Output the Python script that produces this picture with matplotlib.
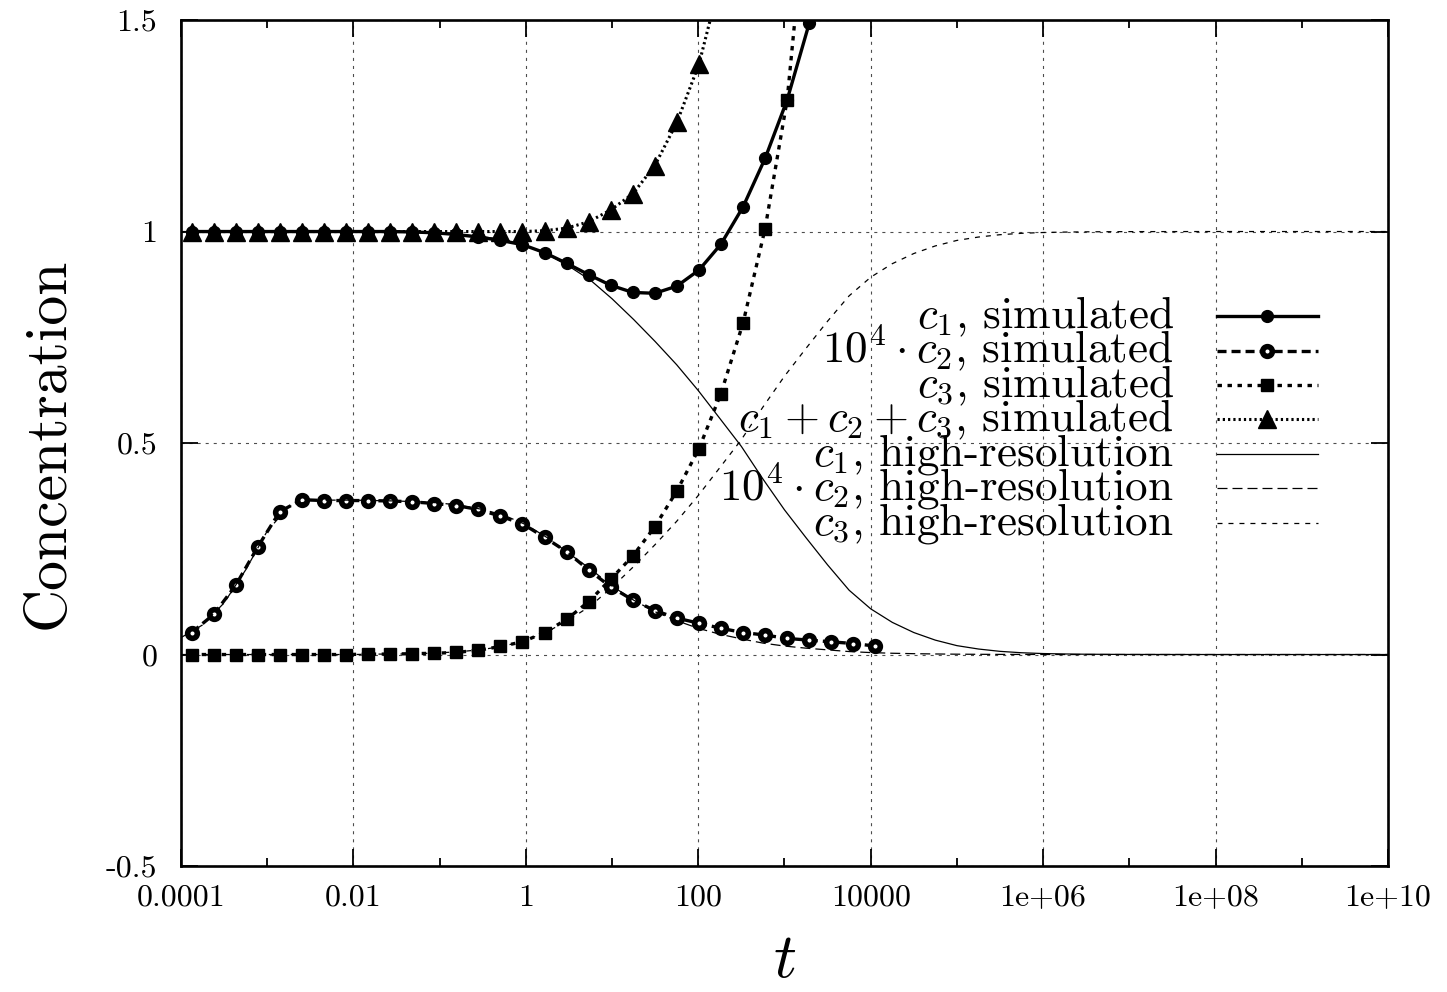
import numpy as np
import matplotlib
matplotlib.use('Agg')
import matplotlib.pyplot as plt
from matplotlib.ticker import FixedLocator, NullLocator, NullFormatter

# computer-modern look, as in the LaTeX original
plt.rcParams['font.family'] = 'cmr10'
plt.rcParams['mathtext.fontset'] = 'cm'
plt.rcParams['axes.formatter.use_mathtext'] = True
plt.rcParams['lines.scale_dashes'] = False

# simulated time points
t_sim = [1.33e-4, 2.40e-4, 4.32e-4, 7.79e-4, 1.40e-3, 2.53e-3, 4.56e-3, 8.22e-3,
         1.48e-2, 2.67e-2, 4.81e-2, 8.67e-2, 0.156, 0.281, 0.507, 0.914,
         1.65, 2.97, 5.35, 9.64, 17.4, 31.3, 56.5, 102,
         183, 330, 596, 1073, 1934, 3485, 6281, 11320]

c1_sim = [1.0, 1.0, 1.0, 1.0, 1.0, 1.0, 1.0, 1.0, 1.0, 1.0,
          0.999, 0.997, 0.993, 0.987, 0.979, 0.969, 0.950, 0.925, 0.898, 0.873,
          0.856, 0.854, 0.871, 0.909, 0.970, 1.058, 1.173, 1.311, 1.492]
c2_sim = [0.052, 0.095, 0.164, 0.255, 0.338, 0.366, 0.364, 0.364, 0.364, 0.363,
          0.361, 0.357, 0.352, 0.343, 0.327, 0.309, 0.277, 0.243, 0.200, 0.160,
          0.129, 0.104, 0.086, 0.074, 0.062, 0.052, 0.046, 0.038, 0.034, 0.030,
          0.026, 0.020]
c3_sim = [0.0, 0.0, 0.0, 0.0, 0.0, 0.0, 0.0, 0.0,
          0.001, 0.001, 0.002, 0.003, 0.005, 0.010, 0.019, 0.030, 0.052, 0.083,
          0.125, 0.178, 0.233, 0.302, 0.387, 0.487, 0.617, 0.783, 1.007, 1.311, 1.85]
sum_sim = [1.0, 1.0, 1.0, 1.0, 1.0, 1.0, 1.0, 1.0, 1.0, 1.0, 1.0, 1.0, 1.0, 1.0, 1.0,
           1.0, 1.002, 1.008, 1.023, 1.051, 1.089, 1.156, 1.258, 1.396, 1.60]

# high-resolution reference
t_hr = [1e-4, 1.78e-4, 3.16e-4, 5.62e-4, 1e-3, 1.78e-3, 3.16e-3, 5.62e-3,
        1e-2, 1.78e-2, 3.16e-2, 5.62e-2, 0.1, 0.178, 0.316, 0.562,
        1, 1.78, 3.16, 5.62, 10, 17.8, 31.6, 56.2,
        100, 178, 316, 562, 1e3, 1.78e3, 3.16e3, 5.62e3,
        1e4, 1.78e4, 3.16e4, 5.62e4, 1e5, 1.78e5, 3.16e5, 5.62e5,
        1e6, 1.78e6, 3.16e6, 5.62e6, 1e7, 1e8, 1e9, 1e10]
c1_hr = [1.0, 1.0, 1.0, 1.0, 1.0, 1.0, 1.0, 1.0,
         1.0, 0.999, 0.999, 0.998, 0.996, 0.993, 0.988, 0.980,
         0.966, 0.946, 0.918, 0.885, 0.841, 0.792, 0.740, 0.685,
         0.624, 0.558, 0.492, 0.415, 0.342, 0.276, 0.212, 0.152,
         0.108, 0.076, 0.052, 0.034, 0.021, 0.013, 0.0075, 0.0042,
         0.0023, 0.0013, 0.0007, 0.0004, 0.0002, 0.0, 0.0, 0.0]
c2_hr = [0.040, 0.070, 0.122, 0.200, 0.292, 0.350, 0.364, 0.365,
         0.365, 0.364, 0.363, 0.361, 0.3585, 0.352, 0.343, 0.329,
         0.307, 0.276, 0.239, 0.202, 0.162, 0.1285, 0.101, 0.080,
         0.062, 0.048, 0.037, 0.027, 0.020, 0.015, 0.011, 0.007,
         0.0046, 0.003, 0.002, 0.0013, 0.0008, 0.0005, 0.0003, 0.0002,
         0.0001, 0.0, 0.0, 0.0, 0.0, 0.0, 0.0, 0.0]
c3_hr = [0.0, 0.0, 0.0, 0.0, 0.0, 0.0, 0.0, 0.0,
         0.0, 0.001, 0.001, 0.002, 0.004, 0.007, 0.012, 0.020,
         0.034, 0.054, 0.082, 0.115, 0.159, 0.208, 0.260, 0.315,
         0.376, 0.442, 0.508, 0.585, 0.658, 0.724, 0.788, 0.848,
         0.892, 0.924, 0.948, 0.966, 0.979, 0.987, 0.9925, 0.9958,
         0.9977, 0.9987, 0.9993, 0.9996, 0.9998, 1.0, 1.0, 1.0]

xtick_pos = [1e-4, 1e-2, 1, 1e2, 1e4, 1e6, 1e8, 1e10]
xtick_labels = ['0.0001', '0.01', '1', '100', '10000', '1e+06', '1e+08', '1e+10']
xminor_pos = [1e-3, 1e-1, 10, 1e3, 1e5, 1e7, 1e9]
ytick_pos = [-0.5, 0, 0.5, 1, 1.5]
ytick_labels = ['-0.5', '0', '0.5', '1', '1.5']

labels = [r'$c_1$, simulated',
          r'$10^4 \cdot c_2$, simulated',
          r'$c_3$, simulated',
          r'$c_1 + c_2 + c_3$, simulated',
          r'$c_1$, high-resolution',
          r'$10^4 \cdot c_2$, high-resolution',
          r'$c_3$, high-resolution']

# line styles (dash lengths in points)
styles = [
    dict(color='k', lw=2.4, ls='-', marker='o', ms=8.5),
    dict(color='k', lw=2.4, ls=(0, (6.5, 3.6)), marker='o', ms=7,
         mfc='white', mec='k', mew=4),
    dict(color='k', lw=2.4, ls=(0, (3.2, 4.0)), marker='s', ms=8.5),
    dict(color='k', lw=2.2, ls=(0, (1.6, 2.2)), marker='^', ms=12.5),
    dict(color='k', lw=0.9, ls='-'),
    dict(color='k', lw=0.9, ls=(0, (7.2, 3.6))),
    dict(color='k', lw=0.9, ls=(0, (3.6, 4.3))),
]

series = [
    (t_sim[:len(c1_sim)], c1_sim),
    (t_sim[:len(c2_sim)], c2_sim),
    (t_sim[:len(c3_sim)], c3_sim),
    (t_sim[:len(sum_sim)], sum_sim),
    (t_hr, c1_hr),
    (t_hr, c2_hr),
    (t_hr, c3_hr),
]

fig = plt.figure(figsize=(14.47, 9.92), dpi=100)
ax = fig.add_axes([0.1251, 0.1270, 0.8341, 0.8528])

for (x, y), st in zip(series, styles):
    ax.plot(x, y, **st)

ax.set_xscale('log')
ax.set_xlim(1e-4, 1e10)
ax.set_ylim(-0.5, 1.5)
ax.set_xticks(xtick_pos, xtick_labels)
ax.xaxis.set_minor_locator(FixedLocator(xminor_pos))
ax.xaxis.set_minor_formatter(NullFormatter())
ax.set_yticks(ytick_pos, ytick_labels)
ax.yaxis.set_minor_locator(NullLocator())

ax.tick_params(which='both', direction='in', top=True, right=True, width=1.3,
               labelsize=23)
ax.tick_params(which='major', length=12.2)
ax.tick_params(which='minor', length=5.8)
ax.tick_params(axis='x', pad=13)
ax.tick_params(axis='y', pad=17)
for sp in ax.spines.values():
    sp.set_linewidth(1.9)

ax.set_axisbelow(True)
ax.grid(True, which='major', color='0.3', lw=0.8, ls=(0, (2.2, 3.6)))

ax.set_xlabel(r'$t$', fontsize=46)
ax.xaxis.set_label_coords(0.5, -0.078)
ax.set_ylabel('Concentration', fontsize=43)
ax.yaxis.set_label_coords(-0.087, 0.5)

# gnuplot-style key: right-aligned text, sample to the right
key_y0, key_dy = 0.650, 0.0407
for i, (lab, st) in enumerate(zip(labels, styles)):
    yk = key_y0 - i * key_dy
    ax.text(0.8225, yk - 0.0142, lab, transform=ax.transAxes,
            ha='right', va='baseline', fontsize=32.5)
    line_st = {k: v for k, v in st.items() if k not in ('marker', 'ms', 'mfc', 'mec', 'mew')}
    ax.plot([0.8585, 0.942], [yk, yk], transform=ax.transAxes, clip_on=False, **line_st)
    if 'marker' in st:
        mk_st = {k: v for k, v in st.items() if k not in ('ls', 'lw')}
        ax.plot([0.900], [yk], transform=ax.transAxes, clip_on=False, ls='none', **mk_st)

fig.savefig('out.png', dpi=100)
